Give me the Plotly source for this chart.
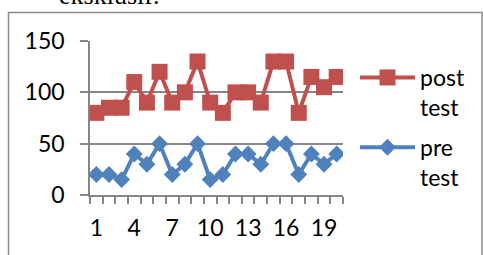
import plotly.graph_objects as go

categories = list(range(1, 21))
pre_test = [20, 20, 15, 40, 30, 50, 20, 30, 50, 15, 20, 40, 40, 30, 50, 50, 20, 40, 30, 40]
post_test = [80, 85, 85, 110, 90, 120, 90, 100, 130, 90, 80, 100, 100, 90, 130, 130, 80, 115, 105, 115]
tick_labels = [1, 4, 7, 10, 13, 16, 19]

W, H = 483, 255
L, R, T, B = 90, 140, 41, 60
pw, ph = W - L - R, H - T - B

def px_x(x):
    return (x - L) / pw

def px_y(y):
    return (H - B - y) / ph

FONT = "Lato"
GRAY = "#868686"

fig = go.Figure()
fig.add_trace(go.Scatter(
    x=categories, y=post_test, name="post<br>test", mode="lines+markers",
    line=dict(color="#C0504D", width=4),
    marker=dict(symbol="square", size=16, color="#C0504D"),
    legendgroup="a",
))
fig.add_trace(go.Scatter(
    x=categories, y=pre_test, name="pre<br>test", mode="lines+markers",
    line=dict(color="#4F81BD", width=4),
    marker=dict(symbol="diamond", size=13, color="#4F81BD"),
    legendgroup="b",
))

fig.update_layout(
    width=W, height=H,
    margin=dict(l=L, r=R, t=T, b=B, autoexpand=False),
    paper_bgcolor="white", plot_bgcolor="white",
    font=dict(family=FONT, size=23, color="black"),
    showlegend=True,
    legend=dict(
        x=px_x(355), xanchor="left", y=px_y(56), yanchor="top",
        valign="top", tracegroupgap=7, font=dict(size=23),
        bgcolor="rgba(0,0,0,0)", itemwidth=55,
    ),
    xaxis=dict(
        range=[0.5, 20.5], tickvals=tick_labels, ticktext=[str(t) for t in tick_labels],
        showgrid=False, zeroline=False, showline=True, linecolor=GRAY, linewidth=1.5,
        ticks="", ticklabelstandoff=12, automargin=False,
        minor=dict(tick0=0.5, dtick=1, ticks="outside", ticklen=7, tickcolor=GRAY, tickwidth=1.5, showgrid=False),
    ),
    yaxis=dict(
        range=[0, 150], dtick=50, showgrid=True, gridcolor=GRAY, gridwidth=1.5,
        zeroline=False, showline=True, linecolor=GRAY, linewidth=1.5, automargin=False,
        ticks="outside", ticklen=8, tickcolor=GRAY, tickwidth=1.5, ticklabelstandoff=11,
    ),
    shapes=[dict(
        type="rect", xref="paper", yref="paper",
        x0=px_x(8.5), x1=px_x(482), y0=px_y(262), y1=px_y(12.5),
        line=dict(color="#8a8a8a", width=1.5), fillcolor="rgba(0,0,0,0)", layer="below",
    )],
    annotations=[dict(
        text="eksklusif.", xref="paper", yref="paper",
        x=px_x(57), xanchor="left", y=px_y(12), yanchor="bottom",
        showarrow=False, font=dict(family="Liberation Serif", size=26, color="black"),
    )],
)

fig.write_html("out.html", config={"displayModeBar": False},
               post_script="document.body.style.margin='0';document.body.style.overflow='hidden';")
